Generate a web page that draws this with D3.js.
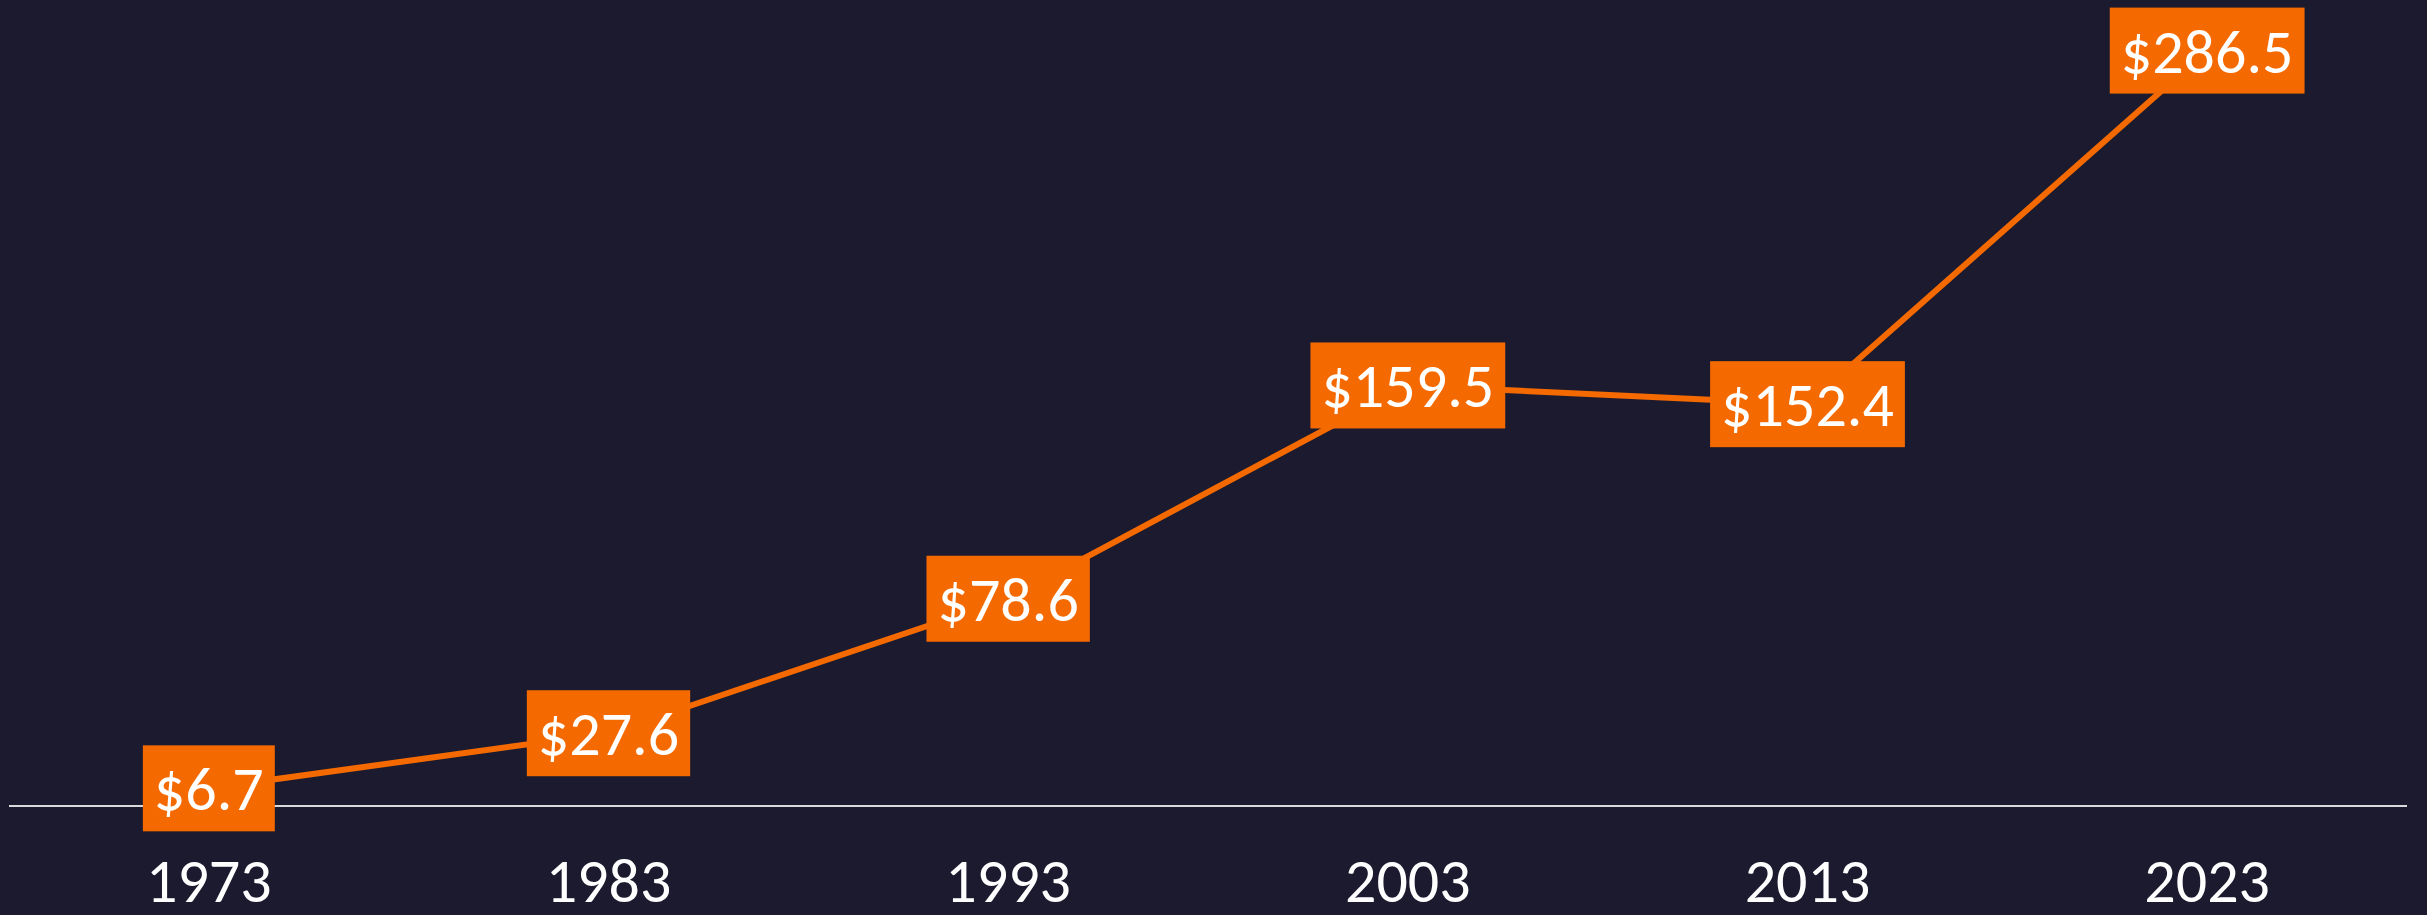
<!DOCTYPE html>
<html>
<head>
<meta charset="utf-8">
<script src="https://cdn.jsdelivr.net/npm/d3@7"></script>
<style>
  html, body { margin: 0; padding: 0; background: #1c1a2e; }
  svg { display: block; }
</style>
</head>
<body>
<script>
// data
var years = ["1973", "1983", "1993", "2003", "2013", "2023"];
var values = [6.7, 27.6, 78.6, 159.5, 152.4, 286.5];
var labels = ["$6.7", "$27.6", "$78.6", "$159.5", "$152.4", "$286.5"];

var W = 2427, H = 915;
var orange = "#f46a00";
var font = "Carlito, Calibri, Lato, sans-serif";

var svg = d3.select("body").append("svg")
    .attr("width", W)
    .attr("height", H);

svg.append("rect")
    .attr("width", W).attr("height", H)
    .attr("fill", "#1c1a2e");

var data = years.map(function(y, i) {
  return {year: y, value: values[i], label: labels[i]};
});

// x: six equal bands across the axis line
var x = d3.scaleBand()
    .domain(years)
    .range([9, 2407]);

var y = d3.scaleLinear()
    .domain([0, 300])
    .range([806, 15]);

var cx = d => x(d.year) + x.bandwidth() / 2;

// baseline
svg.append("line")
    .attr("x1", x.range()[0]).attr("x2", x.range()[1])
    .attr("y1", y(0)).attr("y2", y(0))
    .attr("stroke", "#d9d9d9")
    .attr("stroke-width", 2);

// year labels
var xAxis = d3.axisBottom(x).tickSize(0).tickPadding(0);
var gx = svg.append("g")
    .attr("transform", "translate(0," + y(0) + ")")
    .call(xAxis);
gx.select(".domain").remove();
gx.selectAll("text")
    .attr("y", 0)
    .attr("dy", 0)
    .attr("transform", "translate(0,96)")
    .attr("fill", "#ffffff")
    .style("font-family", font)
    .style("font-size", "62px");

// line
var line = d3.line()
    .x(cx)
    .y(d => y(d.value));

svg.append("path")
    .datum(data)
    .attr("d", line)
    .attr("fill", "none")
    .attr("stroke", orange)
    .attr("stroke-width", 6);

// value labels in orange boxes
var lab = svg.selectAll(".lab")
    .data(data)
    .enter()
    .append("g")
    .attr("class", "lab")
    .attr("transform", d => "translate(" + cx(d) + "," + y(d.value) + ")");

var rects = lab.append("rect")
    .attr("fill", orange);

lab.append("text")
    .attr("text-anchor", "middle")
    .attr("y", 22)
    .attr("fill", "#ffffff")
    .style("font-family", font)
    .style("font-size", "62px")
    .text(d => d.label);

lab.each(function() {
  var g = d3.select(this);
  var bb = g.select("text").node().getBBox();
  var w = bb.width + 22;
  g.select("rect")
      .attr("x", -w / 2)
      .attr("y", -43)
      .attr("width", w)
      .attr("height", 86);
});
</script>
</body>
</html>
